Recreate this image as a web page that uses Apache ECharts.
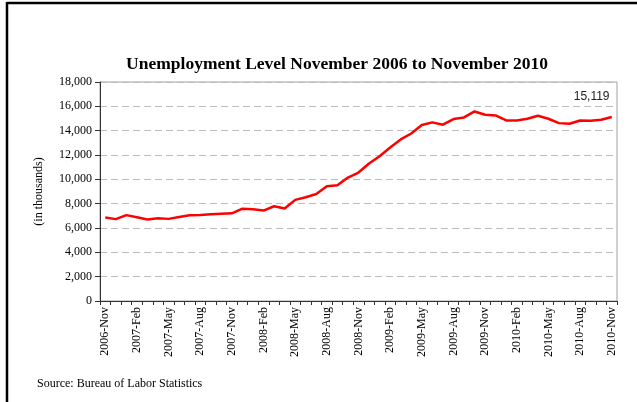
<!DOCTYPE html>
<html>
<head>
<meta charset="utf-8">
<script src="https://cdn.jsdelivr.net/npm/echarts@6/dist/echarts.min.js"></script>
<style>
  html, body { margin: 0; padding: 0; background: #fff; }
  #chart { width: 637px; height: 402px; }
</style>
</head>
<body>
<div id="chart"></div>
<script>
// Monthly unemployment level, in thousands, Nov 2006 – Nov 2010
const months = ['Jan','Feb','Mar','Apr','May','Jun','Jul','Aug','Sep','Oct','Nov','Dec'];
const startYear = 2006, startMonth = 10; // November 2006 (0-based month)
const monthCount = 49;

const unemployed = [
  6870, 6730,
  7060, 6880, 6700, 6800, 6750, 6910, 7040, 7070, 7130, 7180, 7210, 7590,
  7540, 7430, 7790, 7600, 8310, 8530, 8800, 9430, 9510, 10150, 10560, 11300,
  11900, 12620, 13280, 13770, 14460, 14680, 14490, 14950, 15090, 15580, 15310, 15250,
  14840, 14840, 14980, 15230, 14980, 14620, 14570, 14840, 14810, 14900, 15119
];

const yTicks = { min: 0, max: 18000, step: 2000 };

const categories = [];
for (let i = 0; i < monthCount; i++) {
  const m = startMonth + i;
  categories.push((startYear + Math.floor(m / 12)) + '-' + months[m % 12]);
}

const serif = '"Liberation Serif", "DejaVu Serif", serif';

const chart = echarts.init(document.getElementById('chart'), null, { renderer: 'canvas' });
chart.setOption({
  animation: false,
  backgroundColor: '#fff',
  title: [{
    text: 'Unemployment Level November 2006 to November 2010',
    left: 332,
    textAlign: 'center',
    top: 50,
    textStyle: { fontFamily: serif, fontWeight: 'bold', fontSize: 17.5, color: '#000' }
  }, {
    text: 'Source: Bureau of Labor Statistics',
    left: 32,
    top: 373,
    textStyle: { fontFamily: serif, fontWeight: 'normal', fontSize: 12, color: '#000' }
  }],
  graphic: [
    { type: 'line', shape: { x1: 7, y1: 3, x2: 637, y2: 3 }, style: { stroke: '#000', lineWidth: 2.5 } },
    { type: 'line', shape: { x1: 7, y1: 2, x2: 7, y2: 402 }, style: { stroke: '#000', lineWidth: 2.5 } }
  ],
  grid: {
    left: 100, right: 20, top: 82, bottom: 101,
    show: true, borderColor: '#a0a0a0', borderWidth: 1, backgroundColor: 'transparent'
  },
  xAxis: {
    type: 'category',
    data: categories,
    boundaryGap: true,
    axisLine: { lineStyle: { color: '#333', width: 1 } },
    axisTick: { show: true, interval: 0, length: 4, lineStyle: { color: '#333' } },
    axisLabel: {
      interval: 2,
      rotate: 90,
      margin: 6,
      fontFamily: serif,
      fontSize: 12,
      color: '#000'
    },
    splitLine: { show: false }
  },
  yAxis: {
    type: 'value',
    min: yTicks.min,
    max: yTicks.max,
    interval: yTicks.step,
    name: '(in thousands)',
    nameLocation: 'middle',
    nameGap: 55,
    nameTextStyle: { fontFamily: serif, fontSize: 12, color: '#000' },
    axisLine: { show: true, lineStyle: { color: '#333', width: 1 } },
    axisTick: { show: true, length: 5, lineStyle: { color: '#333' } },
    axisLabel: {
      margin: 8,
      fontFamily: serif,
      fontSize: 12,
      color: '#000',
      formatter: v => v.toLocaleString('en-US')
    },
    splitLine: { show: true, lineStyle: { color: '#bdbdbd', type: [7, 4], width: 1 } }
  },
  series: [{
    type: 'line',
    data: unemployed,
    symbol: 'none',
    smooth: false,
    lineStyle: { color: '#ff0000', width: 2.5 },
    itemStyle: { color: '#ff0000' },
    endLabel: {
      show: true,
      offset: [-46, -20],
      formatter: p => Number(p.value).toLocaleString('en-US'),
      fontFamily: '"Liberation Sans", Arial, sans-serif',
      fontSize: 12,
      color: '#222'
    }
  }]
});
</script>
</body>
</html>
